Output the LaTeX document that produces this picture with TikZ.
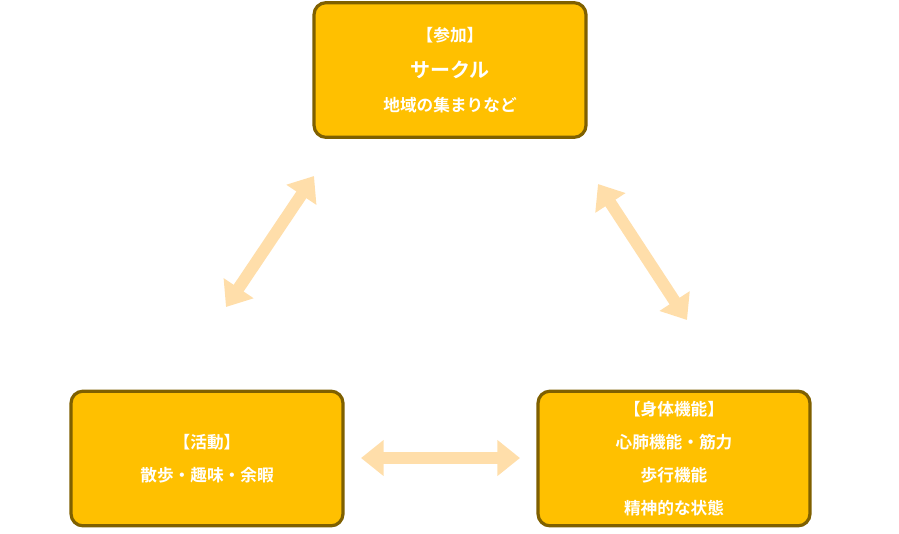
\documentclass[tikz,border=0pt]{standalone}
\usepackage{fontspec}
\newfontfamily\cjk{Noto Sans CJK JP}[BoldFont={Noto Sans CJK JP Bold}]
\usetikzlibrary{arrows.meta, positioning}
\definecolor{boxfill}{RGB}{255,192,0}
\definecolor{boxline}{RGB}{127,96,0}
\definecolor{arrowpeach}{RGB}{255,222,170}
\tikzset{
  box/.style={draw=boxline, line width=2.4pt, fill=boxfill, rounded corners=9pt,
    minimum width=204pt, minimum height=101pt, text=white, align=center,
    font=\cjk\bfseries\fontsize{12.5}{25}\selectfont},
  link/.style={arrowpeach, line width=9pt,
    {Triangle[length=17pt,width=26pt]}-{Triangle[length=17pt,width=26pt]}}
}
\begin{document}
\begin{tikzpicture}[x=0.75pt,y=-0.75pt]
\useasboundingbox (0,0) rectangle (899,533);

% boxes
\node[box] (join) at (450,70) {【参加】\\[2pt]{\fontsize{15}{20}\selectfont サークル}\\地域の集まりなど};
\node[box] (act) at (207,458.5) {【活動】\\散歩・趣味・余暇};
\node[box, font=\cjk\bfseries\fontsize{12.5}{24.8}\selectfont] (body) at (674,458.5) {【身体機能】\\心肺機能・筋力\\歩行機能\\精神的な状態};

% arrow ends
\coordinate (a1) at (226,307);
\coordinate (a2) at (314,176);
\coordinate (b1) at (598,184);
\coordinate (b2) at (687,320);
\coordinate (c1) at (361,458);
\coordinate (c2) at (520,458);

% arrows
\draw[link] (a1) -- (a2);
\draw[link] (b1) -- (b2);
\draw[link] (c1) -- (c2);
\end{tikzpicture}
\end{document}
